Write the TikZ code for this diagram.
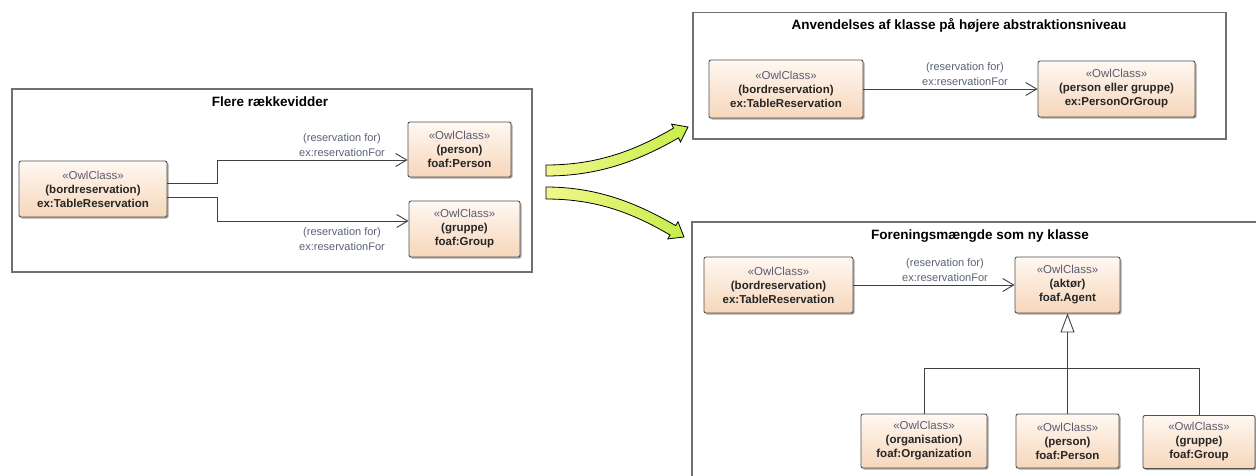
\documentclass[tikz,border=0pt]{standalone}
\usepackage{fontspec}
\setmainfont{Liberation Sans}
\usetikzlibrary{arrows.meta,shadows,calc}
\definecolor{boxtop}{HTML}{FFF8F2}
\definecolor{boxbot}{HTML}{F6D6BA}
\definecolor{boxline}{HTML}{505050}
\definecolor{stereocol}{HTML}{5C5C72}
\definecolor{lbl}{HTML}{5A6275}
\definecolor{frameline}{HTML}{707070}
\definecolor{arrA}{HTML}{F2F78C}
\definecolor{arrB}{HTML}{C6EE4A}
\newcommand{\owlst}{{\mdseries\color{stereocol}«OwlClass»}}
\tikzset{
 cls/.style={draw=boxline, line width=0.9pt, rounded corners=2pt, top color=boxtop, bottom color=boxbot,
   drop shadow={shadow xshift=1.5pt, shadow yshift=-1.5pt, opacity=0.35, fill=black},
   align=center, inner sep=0pt, font=\fontsize{11.5}{14}\selectfont\bfseries, text=black!85},
 frame/.style={draw=frameline, line width=1.1pt, fill=white},
 ftitle/.style={font=\fontsize{13.5}{16}\selectfont\bfseries},
 conn/.style={draw=black!75, line width=0.9pt},
 assoc/.style={conn, -{Straight Barb[length=11pt, width=13pt, line width=0.9pt]}},
 gen/.style={conn, -{Triangle[length=19pt, width=14pt, fill=white, line width=0.9pt]}},
 rlabel/.style={align=center, font=\fontsize{11}{15}\selectfont, text=lbl},
 bigarrow/.style={draw=black, line width=0.8pt, left color=arrA, right color=arrB},
}
\begin{document}
\begin{tikzpicture}[x=1pt,y=-1pt]
\useasboundingbox (0,0) rectangle (1256,475);
% frames
\draw[frame] (12,89) rectangle (532,272);
\draw[frame] (693,12.5) rectangle (1226,139);
\draw[frame] (692,222) rectangle (1262,490);
\node[ftitle] (t1) at (270,102) {Flere rækkevidder};
\node[ftitle] (t2) at (959,25) {Anvendelses af klasse på højere abstraktionsniveau};
\node[ftitle] (t3) at (980,236) {Foreningsmængde som ny klasse};

% left frame
\node[cls, minimum width=148pt, minimum height=56pt] (b1) at (93,189) {\owlst\\(bordreservation)\\ex:TableReservation};
\node[cls, minimum width=103pt, minimum height=55pt] (p1) at (459.5,149.5) {\owlst\\(person)\\foaf:Person};
\node[cls, minimum width=111pt, minimum height=56pt] (g1) at (464.5,229) {\owlst\\(gruppe)\\foaf:Group};
\draw[assoc] ([yshift=6pt]b1.east) -- ++(50,0) |- ([yshift=-10.5pt]p1.west);
\draw[assoc] ([yshift=-8pt]b1.east) -- ++(50,0) |- ([yshift=8pt]g1.west);
\node[rlabel] (l1) at (342,145.5) {(reservation for)\\ex:reservationFor};
\node[rlabel] (l2) at (342,239) {(reservation for)\\ex:reservationFor};

% top right frame
\node[cls, minimum width=154pt, minimum height=58pt] (b2) at (786,89) {\owlst\\(bordreservation)\\ex:TableReservation};
\node[cls, minimum width=157pt, minimum height=56pt] (pog) at (1116.5,89) {\owlst\\(person eller gruppe)\\ex:PersonOrGroup};
\draw[assoc] (b2) -- (pog);
\node[rlabel] (l3) at (965,74.5) {(reservation for)\\ex:reservationFor};

% bottom right frame
\node[cls, minimum width=149pt, minimum height=56pt] (b3) at (778.5,285) {\owlst\\(bordreservation)\\ex:TableReservation};
\node[cls, minimum width=105pt, minimum height=56pt] (agent) at (1067.5,285) {\owlst\\(aktør)\\foaf.Agent};
\draw[assoc] (b3) -- (agent);
\node[rlabel] (l4) at (945,270) {(reservation for)\\ex:reservationFor};
\node[cls, minimum width=126pt, minimum height=54pt] (org) at (924,441) {\owlst\\(organisation)\\foaf:Organization};
\node[cls, minimum width=103pt, minimum height=54pt] (per2) at (1067.5,441) {\owlst\\(person)\\foaf:Person};
\node[cls, minimum width=112pt, minimum height=53pt] (grp2) at (1199,442) {\owlst\\(gruppe)\\foaf:Group};
\coordinate (j) at (1067.5,368);
\draw[conn] (org.north) |- (j);
\draw[conn] (grp2.north) |- (j);
\draw[gen] (per2.north) -- (agent.south);

% big green arrows
\draw[bigarrow] (546,165) -- (546,176) .. controls (600,176) and (640,160) .. (678.5,137.9)
  -- (680.5,141.9) -- (688,127) -- (671.5,124.1) -- (673.5,128.1)
  .. controls (636,150) and (598,165) .. (546,165) -- cycle;
\draw[bigarrow] (546,187) .. controls (600,187) and (640,205) .. (675.7,225.6)
  -- (678.0,221.7) -- (684,237) -- (667.8,238.9) -- (670.1,235.0)
  .. controls (634,214) and (598,199) .. (546,199) -- cycle;
\end{tikzpicture}
\end{document}
